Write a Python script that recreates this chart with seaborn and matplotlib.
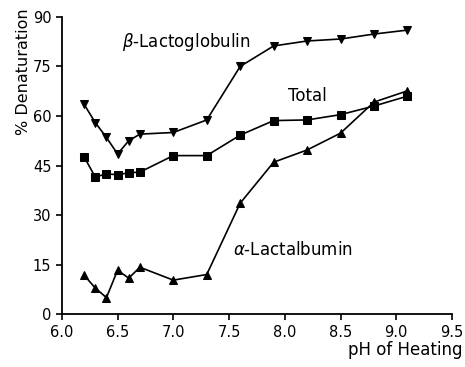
import pandas as pd
import seaborn as sns
import matplotlib.pyplot as plt

# pH values shared by all three series
ph = [6.2, 6.3, 6.4, 6.5, 6.6, 6.7, 7.0, 7.3, 7.6, 7.9, 8.2, 8.5, 8.8, 9.1]

beta_lg = [63.5, 58.0, 53.5, 48.5, 52.5, 54.5, 55.0, 58.8, 75.0, 81.2, 82.7, 83.3, 84.8, 86.0]
total = [47.6, 41.5, 42.5, 42.2, 42.8, 43.0, 48.0, 48.0, 54.2, 58.6, 58.8, 60.4, 63.0, 66.0]
alpha_la = [11.8, 7.9, 5.0, 13.3, 10.9, 14.2, 10.3, 12.0, 33.6, 46.0, 49.7, 54.8, 64.2, 67.6]

x_ticks = [6.0, 6.5, 7.0, 7.5, 8.0, 8.5, 9.0, 9.5]
y_ticks = [0, 15, 30, 45, 60, 75, 90]

sns.set_style('ticks')
plt.rcParams['font.family'] = ['DejaVu Sans']
plt.rcParams['text.color'] = 'black'
plt.rcParams['axes.labelcolor'] = 'black'

df = pd.DataFrame({'pH': ph, 'beta': beta_lg, 'total': total, 'alpha': alpha_la})

fig = plt.figure(figsize=(4.65, 3.67), dpi=100)
ax = fig.add_axes([0.133, 0.144, 0.839, 0.81])

sns.lineplot(data=df, x='pH', y='beta', ax=ax, color='black', marker='v', markersize=6,
             markeredgecolor='black', linewidth=1.2)
sns.lineplot(data=df, x='pH', y='total', ax=ax, color='black', marker='s', markersize=6,
             markeredgecolor='black', linewidth=1.2)
sns.lineplot(data=df, x='pH', y='alpha', ax=ax, color='black', marker='^', markersize=6,
             markeredgecolor='black', linewidth=1.2)

ax.set_xlim(6.0, 9.5)
ax.set_ylim(0, 90)
ax.set_xticks(x_ticks)
ax.set_xticklabels([f'{t:.1f}' for t in x_ticks])
ax.set_yticks(y_ticks)
ax.tick_params(labelsize=10.5, direction='out', length=4.5, width=1.2, pad=3,
               colors='black', labelcolor='black')
for s in ['left', 'bottom']:
    ax.spines[s].set_linewidth(1.3)
    ax.spines[s].set_color('black')
sns.despine(ax=ax)

ax.set_xlabel('pH of Heating', fontsize=12, color='black')
ax.xaxis.set_label_coords(1.026, -0.09)
ax.xaxis.label.set_horizontalalignment('right')
ax.set_ylabel('% Denaturation', fontsize=11.5, color='black')
ax.yaxis.set_label_coords(-0.08, 0.815)

ax.text(6.54, 82.5, r'$\beta$-Lactoglobulin', fontsize=12, va='center', color='black')
ax.text(8.03, 66.0, 'Total', fontsize=12, va='center', color='black')
ax.text(7.535, 19.5, r'$\alpha$-Lactalbumin', fontsize=12, va='center', color='black')

fig.savefig('out.png', dpi=100)
